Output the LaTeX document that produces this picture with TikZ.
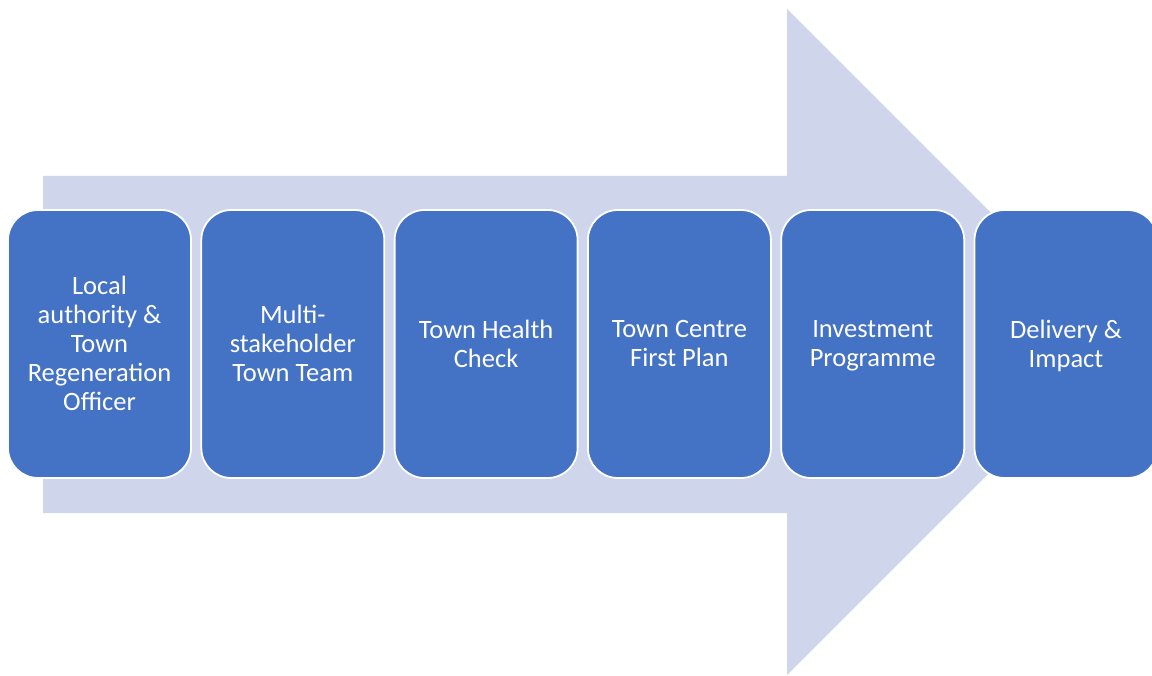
\documentclass[tikz,border=0pt]{standalone}
\usepackage{fontspec}
\setmainfont{Carlito}
\definecolor{stepblue}{HTML}{4472C4}
\definecolor{arrowfill}{HTML}{CFD5EA}
\begin{document}
\begin{tikzpicture}[x=1pt,y=-1pt,
  stagebox/.style={draw=white, line width=1.8pt, fill=stepblue, rounded corners=30pt,
    minimum width=183pt, minimum height=268pt, inner sep=0pt,
    text=white, align=center, font=\fontsize{26.5}{29}\selectfont,
    execute at begin node=\strut, execute at end node=\strut, text depth=0.7pt}]
  \useasboundingbox (0,0) rectangle (1152,676);
  \begin{scope}
    \clip (0,0) rectangle (1152,676);
    % large background arrow
    \fill[arrowfill] (43,176) -- (787,176) -- (787,9) -- (1120,342)
      -- (787,675) -- (787,513) -- (43,513) -- cycle;
    % process stages
    \node[stagebox] (s1) at (99.5,344) {Local\\authority \&\\Town\\Regeneration\\Officer};
    \node[stagebox] (s2) at (292.8,344) {Multi-\\stakeholder\\Town Team};
    \node[stagebox] (s3) at (486.1,344) {Town Health\\Check};
    \node[stagebox] (s4) at (679.4,344) {Town Centre\\First Plan};
    \node[stagebox] (s5) at (872.7,344) {Investment\\Programme};
    \node[stagebox] (s6) at (1066,344) {Delivery \&\\Impact};
  \end{scope}
\end{tikzpicture}
\end{document}
